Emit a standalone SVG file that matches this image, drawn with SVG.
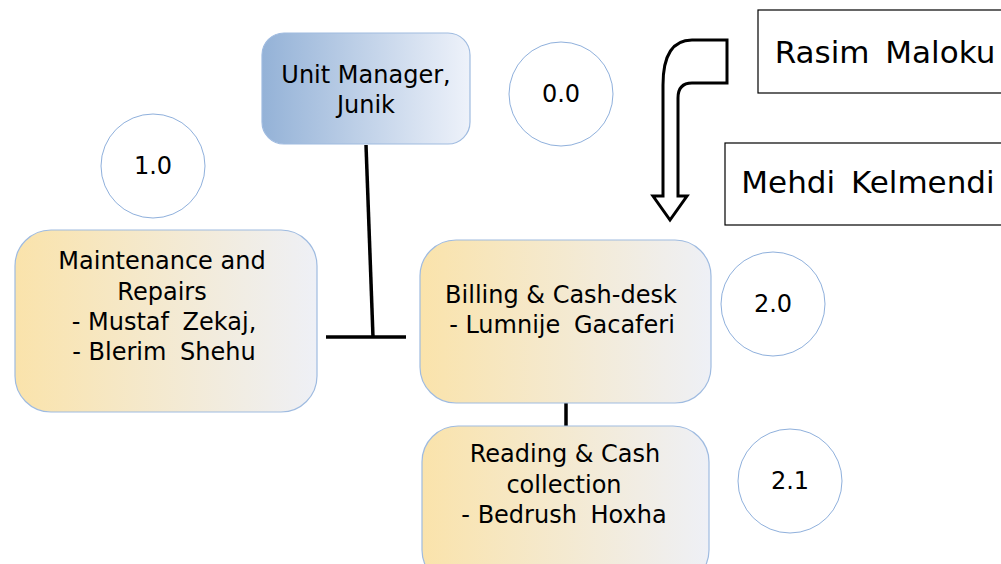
<svg xmlns="http://www.w3.org/2000/svg" width="1001" height="564" viewBox="0 0 1001 564">
<defs>
<linearGradient id="gBlue" x1="0" y1="0" x2="1" y2="0">
<stop offset="0" stop-color="#94b2d7"/>
<stop offset="1" stop-color="#eef2fa"/>
</linearGradient>
<linearGradient id="gGold" x1="0" y1="0" x2="1" y2="0">
<stop offset="0" stop-color="#fae3ab"/>
<stop offset="1" stop-color="#eef0f6"/>
</linearGradient>
</defs>
<style>
.t{font-family:"DejaVu Sans","Liberation Sans",sans-serif;font-size:24px;fill:#000;text-anchor:middle}
.ws{word-spacing:6px}
.big{font-size:31px;word-spacing:6px}
.box{stroke:#9fbbe0;stroke-width:1.2}
.circ{fill:#fff;stroke:#8fb0dc;stroke-width:1}
.rect{fill:#fff;stroke:#000;stroke-width:1.2}
.conn{stroke:#000;stroke-width:3.5;fill:none}
</style>
<rect width="1001" height="564" fill="#fff"/>
<g id="connectors">
<line class="conn" x1="366" y1="145" x2="373" y2="337"/>
<line class="conn" x1="326" y1="337" x2="406" y2="337"/>
<line class="conn" x1="566" y1="403" x2="566" y2="426"/>
</g>
<g id="arrow">
<path d="M 727 40 L 692 40 Q 663 40 663 85 L 663 196 L 653 196 L 670 220 L 687 196 L 678 196 L 678 98 Q 678 83 692 83 L 727 83 Z" fill="#fff" stroke="#000" stroke-width="3" stroke-linejoin="miter"/>
</g>
<g id="unit-manager">
<rect class="box" x="262" y="33" width="208" height="111" rx="22" fill="url(#gBlue)"/>
<text class="t" x="366" y="83">Unit Manager,</text>
<text class="t" x="366" y="113">Junik</text>
</g>
<g id="c00">
<circle class="circ" cx="561" cy="94" r="52"/>
<text class="t" x="561" y="102">0.0</text>
</g>
<g id="c10">
<circle class="circ" cx="153" cy="166" r="52"/>
<text class="t" x="153" y="174">1.0</text>
</g>
<g id="maintenance">
<rect class="box" x="15" y="230" width="302" height="182" rx="36" fill="url(#gGold)"/>
<text class="t" x="162" y="269">Maintenance and</text>
<text class="t" x="162" y="300">Repairs</text>
<text class="t" x="164" y="330">- Mustaf<tspan class="ws"> Zekaj,</tspan></text>
<text class="t" x="164" y="360">- Blerim<tspan class="ws"> Shehu</tspan></text>
</g>
<g id="billing">
<rect class="box" x="420" y="240" width="291" height="163" rx="36" fill="url(#gGold)"/>
<text class="t" x="561" y="303">Billing &amp; Cash-desk</text>
<text class="t" x="562" y="333">- Lumnije<tspan class="ws"> Gacaferi</tspan></text>
</g>
<g id="c20">
<circle class="circ" cx="773" cy="304" r="52"/>
<text class="t" x="773" y="312">2.0</text>
</g>
<g id="reading">
<rect class="box" x="422" y="426" width="287" height="160" rx="36" fill="url(#gGold)"/>
<text class="t" x="565" y="462">Reading &amp; Cash</text>
<text class="t" x="564" y="493">collection</text>
<text class="t" x="564" y="523">- Bedrush<tspan class="ws"> Hoxha</tspan></text>
</g>
<g id="c21">
<circle class="circ" cx="790" cy="481" r="52"/>
<text class="t" x="790" y="489">2.1</text>
</g>
<g id="rasim">
<rect class="rect" x="758" y="10" width="260" height="83"/>
<text class="t big" x="885" y="63">Rasim Maloku</text>
</g>
<g id="mehdi">
<rect class="rect" x="725" y="143" width="290" height="82"/>
<text class="t big" x="868" y="193">Mehdi Kelmendi</text>
</g>
</svg>
